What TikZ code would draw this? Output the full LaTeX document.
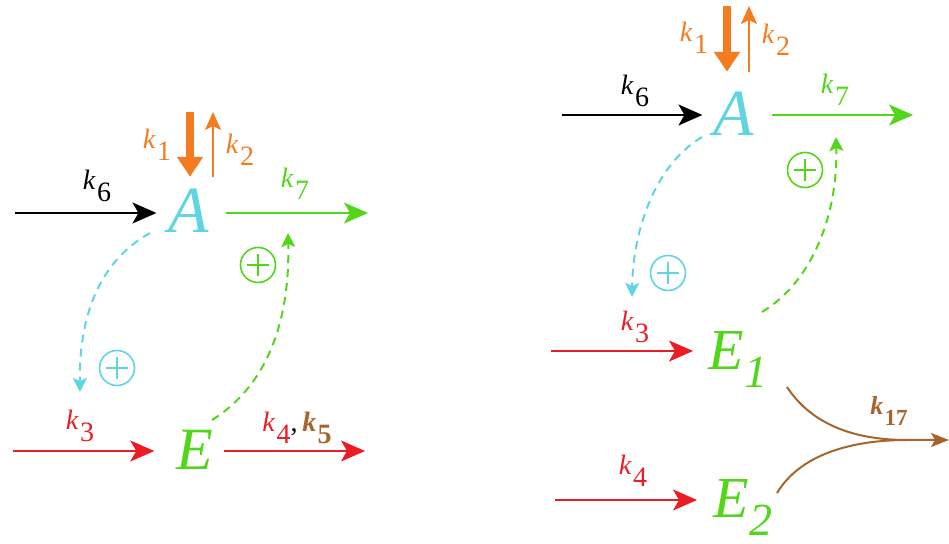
\documentclass[tikz,border=0pt]{standalone}
\usepackage{fontspec}
\setmainfont{Liberation Serif}
\usetikzlibrary{arrows.meta}
\definecolor{cA}{RGB}{95,212,226}
\definecolor{cG}{RGB}{82,214,26}
\definecolor{cO}{RGB}{243,123,32}
\definecolor{cR}{RGB}{236,28,36}
\definecolor{cB}{RGB}{166,101,43}
\newcommand{\kl}[1]{\textit{k}\kern0.05em\raisebox{-0.42em}{#1}}
\newcommand{\klb}[1]{\textbf{\textit{k}}\kern0.05em\raisebox{-0.42em}{\textbf{#1}}}
\tikzset{
  species/.style={inner sep=0pt, font=\fontsize{33}{33}\selectfont\itshape},
  speciesE/.style={inner sep=0pt, font=\fontsize{30}{30}\selectfont\itshape},
  speciesEs/.style={inner sep=0pt, font=\fontsize{29}{29}\selectfont\itshape},
  klab/.style={inner sep=0pt, font=\fontsize{14}{14}\selectfont},
  flow/.style={line width=1pt, -{Stealth[length=12pt,width=10.5pt,inset=3pt]}},
  bigflux/.style={line width=4pt, cO, -{Triangle[length=10pt,width=12.5pt]}},
  smallflux/.style={line width=0.9pt, cO, -{Stealth[length=9pt,width=8pt,inset=2pt]}},
  influence/.style={line width=1pt, dash pattern=on 4pt off 3pt, -{Stealth[length=7pt,width=7pt,inset=1.5pt]}},
  pluscirc/.style={circle, draw, line width=0.8pt, minimum size=17.5pt, inner sep=0pt,
    path picture={\draw[line width=0.9pt]
      ([xshift=-5.5pt]path picture bounding box.center) -- ([xshift=5.5pt]path picture bounding box.center)
      ([yshift=-5.5pt]path picture bounding box.center) -- ([yshift=5.5pt]path picture bounding box.center);}},
  brownline/.style={line width=1pt, cB},
}
\begin{document}
\begin{tikzpicture}[x=0.5pt,y=-0.5pt]
\useasboundingbox (0,0) rectangle (949,544);

% ---------------- left panel ----------------
\node[species, text=cA] (A) at (189,211) {A};
\node[speciesE, text=cG] (E) at (195,450) {E};

\coordinate (k6s) at (15,213);
\coordinate (k7e) at (368,213);
\coordinate (k1s) at (190,112);
\coordinate (k2e) at (213,112);
\coordinate (k3s) at (13,451);
\coordinate (k45e) at (365,451);

\draw[flow, shorten >=6pt] (k6s) -- (k6s -| A.west);
\draw[flow, cG, shorten <=8pt] (k7e -| A.east) -- (k7e);
\draw[bigflux, shorten >=6pt] (k1s) -- (k1s |- A.north);
\draw[smallflux, shorten <=6pt] (k2e |- A.north) -- (k2e);
\draw[flow, cR, shorten >=11pt] (k3s) -- (k3s -| E.west);
\draw[flow, cR, shorten <=5pt] (k45e -| E.east) -- (k45e);

\node[klab, text=cO] (l1) at (157,145) {\kl{1}};
\node[klab, text=cO] (l2) at (240,150) {\kl{2}};
\node[klab] (l6) at (97,186) {\kl{6}};
\node[klab, text=cG] (l7) at (295,184) {\kl{7}};
\node[klab, text=cR] (l3) at (80,426) {\kl{3}};
\node[klab] (l45) at (297,428) {\textcolor{cR}{\kl{4}},\,\textcolor{cB}{\klb{5}}};

\coordinate (cLs) at (150,233);
\coordinate (cLe) at (80,392);
\draw[influence, cA] (cLs) .. controls (98,262) and (79,318) .. (cLe);
\coordinate (gLs) at (212,420);
\coordinate (gLe) at (288,233);
\draw[influence, cG] (gLs) .. controls (268,385) and (290,320) .. (gLe);

\node[pluscirc, cA] (pL1) at (117,368) {};
\node[pluscirc, cG] (pL2) at (258,265) {};

% ---------------- right panel ----------------
\node[species, text=cA] (A2) at (734,114) {A};
\node[speciesEs, text=cG, anchor=base west] (E1) at (708,370)
  {E\kern0.02em\raisebox{-9pt}{\fontsize{23}{23}\selectfont 1}};
\node[speciesEs, text=cG, anchor=base west] (E2) at (713,518)
  {E\kern0.02em\raisebox{-9pt}{\fontsize{23}{23}\selectfont 2}};

\coordinate (r6s) at (562,115);
\coordinate (r7e) at (913,115);
\coordinate (r1s) at (727,6);
\coordinate (r2e) at (749,6);
\coordinate (r3s) at (551,351);
\coordinate (r4s) at (555,500);

\draw[flow, shorten >=5.5pt] (r6s) -- (r6s -| A2.west);
\draw[flow, cG, shorten <=8.5pt] (r7e -| A2.east) -- (r7e);
\draw[bigflux, shorten >=10pt] (r1s) -- (r1s |- A2.north);
\draw[smallflux, shorten <=10pt] (r2e |- A2.north) -- (r2e);
\draw[flow, cR, shorten >=7.5pt] (r3s) -- (r3s -| E1.west);
\draw[flow, cR, shorten >=8pt] (r4s) -- (r4s -| E2.west);

\node[klab, text=cO] (m1) at (694,38) {\kl{1}};
\node[klab, text=cO] (m2) at (776,40) {\kl{2}};
\node[klab] (m6) at (635,91) {\kl{6}};
\node[klab, text=cG] (m7) at (835,90) {\kl{7}};
\node[klab, text=cR] (m3) at (635,327) {\kl{3}};
\node[klab, text=cR] (m4) at (633,471) {\kl{4}};
\node[inner sep=0pt, font=\fontsize{13}{13}\selectfont, text=cB] (m17) at (889,411)
  {\textbf{\textit{k}}\kern0.05em\raisebox{-0.42em}{\fontsize{11.5}{11.5}\selectfont\textbf{17}}};

\coordinate (b1) at (787,387);
\coordinate (b2) at (777,493);
\coordinate (bm) at (907,440);
\coordinate (b17) at (949,440);
\draw[brownline] (b2) .. controls (800,455) and (850,440) .. (bm);
\draw[brownline, -{Stealth[length=9pt,width=7pt,inset=2pt]}] (b1) .. controls (812,425) and (855,440) .. (bm) -- (b17);

\coordinate (cRs) at (702,137);
\coordinate (cRe) at (632,297);
\draw[influence, cA] (cRs) .. controls (655,165) and (633,230) .. (cRe);
\coordinate (gRs) at (762,312);
\coordinate (gRe) at (836,137);
\draw[influence, cG] (gRs) .. controls (815,280) and (838,210) .. (gRe);

\node[pluscirc, cA] (pR1) at (668,273) {};
\node[pluscirc, cG] (pR2) at (805,170) {};
\end{tikzpicture}
\end{document}
